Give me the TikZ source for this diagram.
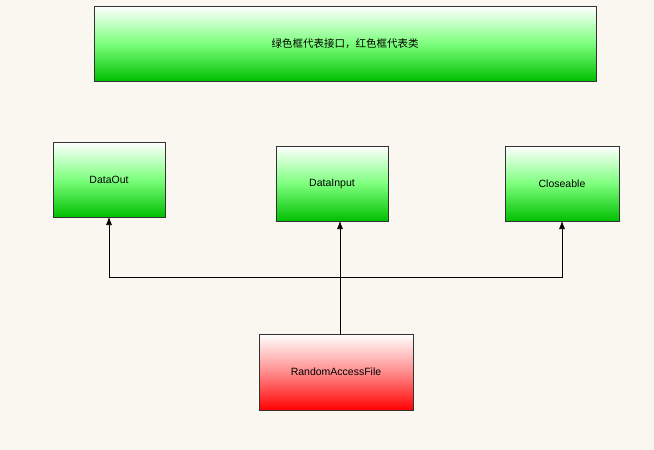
\documentclass[tikz,border=0pt]{standalone}
\usepackage{fontspec}
\setmainfont{Liberation Sans}
\newfontfamily\cjk{Noto Sans CJK SC}
\begin{document}
\begin{tikzpicture}[x=1pt,y=-1pt,
  box/.style={draw=black!80,line width=0.6pt},
  gbox/.style={box,top color=white,bottom color=green!75!black,middle color=green!60!white!85!white},
  rbox/.style={box,top color=white,bottom color=red,middle color=red!45},
  lbl/.style={font=\fontsize{10.5}{12}\selectfont},
  conn/.style={draw=black,line width=0.6pt},
  arr/.style={conn,-{Latex[length=8pt,width=6pt]}}]
\usetikzlibrary{arrows.meta}
\fill[fill={rgb,255:red,250;green,246;blue,240}] (0,0) rectangle (654,450);
\useasboundingbox (0,0) rectangle (654,450);
\shade[gbox] (94,6) rectangle (596,81);
\node[lbl] (title) at (345,43.5) {\cjk 绿色框代表接口，红色框代表类};
\shade[gbox] (53,142) rectangle (165,217);
\node[lbl] (dout) at (109,179.5) {DataOut};
\coordinate (doutb) at (109,217);
\shade[gbox] (276,146) rectangle (388,221);
\node[lbl] (din) at (332,183.5) {DataInput};
\coordinate (dinb) at (340,221);
\shade[gbox] (505,146) rectangle (619,221);
\node[lbl] (clo) at (562,183.5) {Closeable};
\coordinate (clob) at (562,221);
\shade[rbox] (259,334) rectangle (413,410);
\node[lbl] (raf) at (336,372) {RandomAccessFile};
\coordinate (raft) at (340,334);
\coordinate (j) at (340,277);
\draw[conn] (raft) -- (j);
\draw[arr] (j) -- (dinb);
\draw[arr] (j) -| (doutb);
\draw[arr] (j) -| (clob);
\end{tikzpicture}
\end{document}
